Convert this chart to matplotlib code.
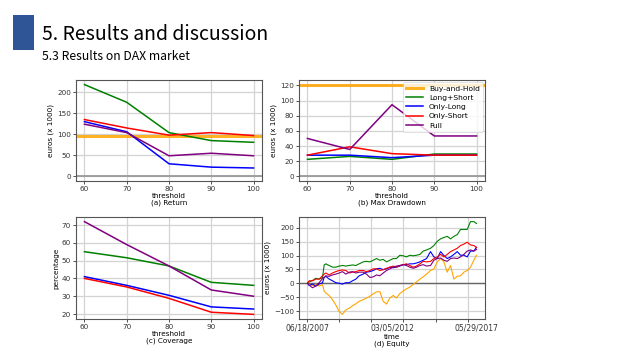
import matplotlib
matplotlib.use("Agg")
import matplotlib.pyplot as plt
from matplotlib.patches import Rectangle

# ---------------- data ----------------
thresholds = [60, 70, 80, 90, 100]
series_names = ["Buy-and-Hold", "Long+Short", "Only-Long", "Only-Short", "Full"]
series_colors = ["orange", "green", "blue", "red", "purple"]

# (a) Return (euros x 1000)
ret_bh = 97
ret_ls = [218, 176, 104, 85, 81]
ret_ol = [130, 106, 30, 22, 20]
ret_os = [135, 115, 98, 104, 97]
ret_full = [124, 104, 49, 55, 49]

# (b) Max Drawdown (euros x 1000)
mdd_bh = 121
mdd_ls = [22.5, 26.4, 22.5, 29.5, 29.5]
mdd_ol = [28, 28, 24.7, 28, 28]
mdd_os = [28, 39, 30, 28, 28]
mdd_full = [50, 35.5, 94.5, 53.3, 53.3]

# (c) Coverage (percentage)
cov_ls = [55, 51.6, 47, 37.8, 36.1]
cov_ol = [41, 36.1, 30.5, 24, 22.8]
cov_os = [40, 35.2, 28.8, 21, 19.8]
cov_full = [71.9, 59, 47, 33.5, 30]

# (d) Equity (euros x 1000) sampled at trading-day index
days = [0, 27, 79, 131, 183, 235, 261, 287, 339, 391, 443, 495, 547, 599, 652, 704, 756, 808,
        870, 922, 975, 1027, 1079, 1131, 1183, 1235, 1287, 1339, 1391, 1443, 1495, 1547, 1599,
        1652, 1704, 1756, 1808, 1860,
        1922, 1975, 2027, 2079, 2131, 2183, 2235, 2287, 2339, 2391, 2443, 2495, 2547, 2599, 2641]
eq_bh = [0, -5, -8, -3, -10, -5, -28, -35, -44, -59, -78, -102, -112, -96, -90, -81, -74, -65,
         -59, -53, -47, -38, -31, -30, -65, -75, -53, -44, -53, -37, -28, -20, -14, -4, 5, 15, 23, 33,
         46, 52, 77, 89, 77, 40, 64, 15, 25, 27, 40, 46, 58, 83, 101]
eq_ls = [0, 5, 10, 18, 15, 20, 66, 70, 64, 58, 58, 62, 64, 62, 64, 66, 64, 70,
         77, 79, 77, 83, 89, 83, 86, 77, 83, 89, 89, 101, 99, 95, 101, 99, 101, 104, 116, 120,
         126, 136, 151, 160, 165, 169, 160, 169, 175, 194, 194, 194, 222, 222, 215]
eq_ol = [0, -8, -3, -10, -3, 2, 21, 25, 15, 9, 2, 0, -3, 2, 2, 9, 15, 27,
         33, 40, 42, 46, 52, 54, 49, 52, 58, 56, 58, 62, 67, 67, 70, 70, 73, 77, 83, 89,
         114, 95, 89, 114, 100, 89, 95, 104, 114, 101, 101, 95, 116, 116, 130]
eq_os = [0, 9, 9, 15, 15, 27, 33, 37, 30, 37, 42, 46, 48, 46, 37, 40, 42, 46,
         46, 42, 46, 52, 52, 46, 49, 54, 58, 62, 58, 64, 67, 70, 64, 58, 62, 70, 79, 77,
         79, 89, 95, 104, 95, 104, 114, 120, 126, 136, 141, 148, 138, 136, 128]
eq_full = [0, -7, -16, -10, 2, 17, 21, 27, 25, 30, 33, 37, 42, 33, 40, 42, 37, 40,
           40, 33, 21, 23, 30, 27, 37, 46, 52, 58, 62, 64, 67, 64, 58, 54, 58, 64, 67, 62,
           64, 83, 89, 91, 83, 79, 89, 91, 89, 95, 104, 116, 120, 116, 122]
date_labels = ["06/18/2007", "03/05/2012", "05/29/2017"]
n_days = 2642

# ---------------- figure ----------------
fig = plt.figure(figsize=(6.4, 3.6), dpi=100)
fig.patch.set_facecolor("white")

fig.add_artist(Rectangle((13 / 640, 1 - 50 / 360), 21 / 640, 35 / 360,
                         transform=fig.transFigure, color="#2F5597", lw=0))
fig.text(42 / 640, 1 - 40 / 360, "5. Results and discussion", fontsize=14,
         family=["Noto Sans CJK KR", "DejaVu Sans"], weight="medium",
         va="baseline", ha="left", color="black")
fig.text(42 / 640, 1 - 60 / 360, "5.3 Results on DAX market", fontsize=8.8,
         family=["Noto Sans CJK KR", "DejaVu Sans"], weight="medium",
         va="baseline", ha="left", color="black")

FS = 5.2
pos = {
    "a": [76 / 640, 1 - 181 / 360, 186 / 640, 101 / 360],
    "b": [299 / 640, 1 - 181 / 360, 186 / 640, 101 / 360],
    "c": [76 / 640, 1 - 319 / 360, 186 / 640, 102 / 360],
    "d": [299 / 640, 1 - 319 / 360, 186 / 640, 102 / 360],
}


def style(ax):
    ax.grid(True, color="#d3d3d3", lw=0.9)
    ax.set_axisbelow(True)
    for s in ax.spines.values():
        s.set_color("#555555")
        s.set_linewidth(0.8)
    ax.tick_params(labelsize=FS, length=2, width=0.6, pad=1.5, colors="#333333")


LW = 1.1

# (a) Return
ax = fig.add_axes(pos["a"])
style(ax)
ax.axhline(0, color="#999999", lw=1.3)
ax.axhline(ret_bh, color="orange", lw=2.2, alpha=0.85, label=series_names[0])
for vals, name, col in zip([ret_ls, ret_ol, ret_os, ret_full], series_names[1:], series_colors[1:]):
    ax.plot(thresholds, vals, color=col, lw=LW, label=name)
ax.set_xticks(thresholds)
ax.set_yticks([0, 50, 100, 150, 200])
ax.set_ylabel("euros (x 1000)", fontsize=FS, labelpad=2)
ax.set_xlabel("threshold\n(a) Return", fontsize=FS, labelpad=1, linespacing=1.1)

# (b) Max Drawdown
ax = fig.add_axes(pos["b"])
style(ax)
ax.axhline(0, color="#999999", lw=1.3)
ax.axhline(mdd_bh, color="orange", lw=2.2, alpha=0.85, label=series_names[0])
for vals, name, col in zip([mdd_ls, mdd_ol, mdd_os, mdd_full], series_names[1:], series_colors[1:]):
    ax.plot(thresholds, vals, color=col, lw=LW, label=name)
ax.set_xticks(thresholds)
ax.set_yticks([0, 20, 40, 60, 80, 100, 120])
ax.set_ylabel("euros (x 1000)", fontsize=FS, labelpad=2)
ax.set_xlabel("threshold\n(b) Max Drawdown", fontsize=FS, labelpad=1, linespacing=1.1)
leg = ax.legend(loc="upper right", fontsize=FS + 0.2, frameon=True, handlelength=2.2,
                borderaxespad=0.3, labelspacing=0.4, framealpha=0.8)
leg.get_frame().set_linewidth(0.5)

# (c) Coverage
ax = fig.add_axes(pos["c"])
style(ax)
for vals, name, col in zip([cov_ls, cov_ol, cov_os, cov_full], series_names[1:], series_colors[1:]):
    ax.plot(thresholds, vals, color=col, lw=LW, label=name)
ax.set_xticks(thresholds)
ax.set_yticks([20, 30, 40, 50, 60, 70])
ax.set_ylabel("percentage", fontsize=FS, labelpad=2)
ax.set_xlabel("threshold\n(c) Coverage", fontsize=FS, labelpad=1, linespacing=1.1)

# (d) Equity
ax = fig.add_axes(pos["d"])
style(ax)
ax.xaxis.remove_overlapping_locs = False
ax.axhline(0, color="#666666", lw=1.0)
for vals, name, col in zip([eq_bh, eq_ls, eq_ol, eq_os, eq_full], series_names, series_colors):
    ax.plot(days, vals, color=col, lw=0.8, label=name)
ax.set_xticks(list(range(0, 2501, 500)))
ax.set_xticklabels([""] * 6)
ax.set_xticks([0, n_days // 2, n_days - 1], minor=True)
ax.set_xticklabels(date_labels, minor=True)
ax.tick_params(axis="x", which="minor", length=0, labelsize=FS + 0.3, pad=3.5, colors="#333333")
ax.set_yticks([-100, -50, 0, 50, 100, 150, 200])
ax.set_ylabel("euros (x 1000)", fontsize=FS, labelpad=2)
ax.set_xlabel("time\n(d) Equity", fontsize=FS, labelpad=1, linespacing=1.1)

fig.savefig("out.png", dpi=100)
